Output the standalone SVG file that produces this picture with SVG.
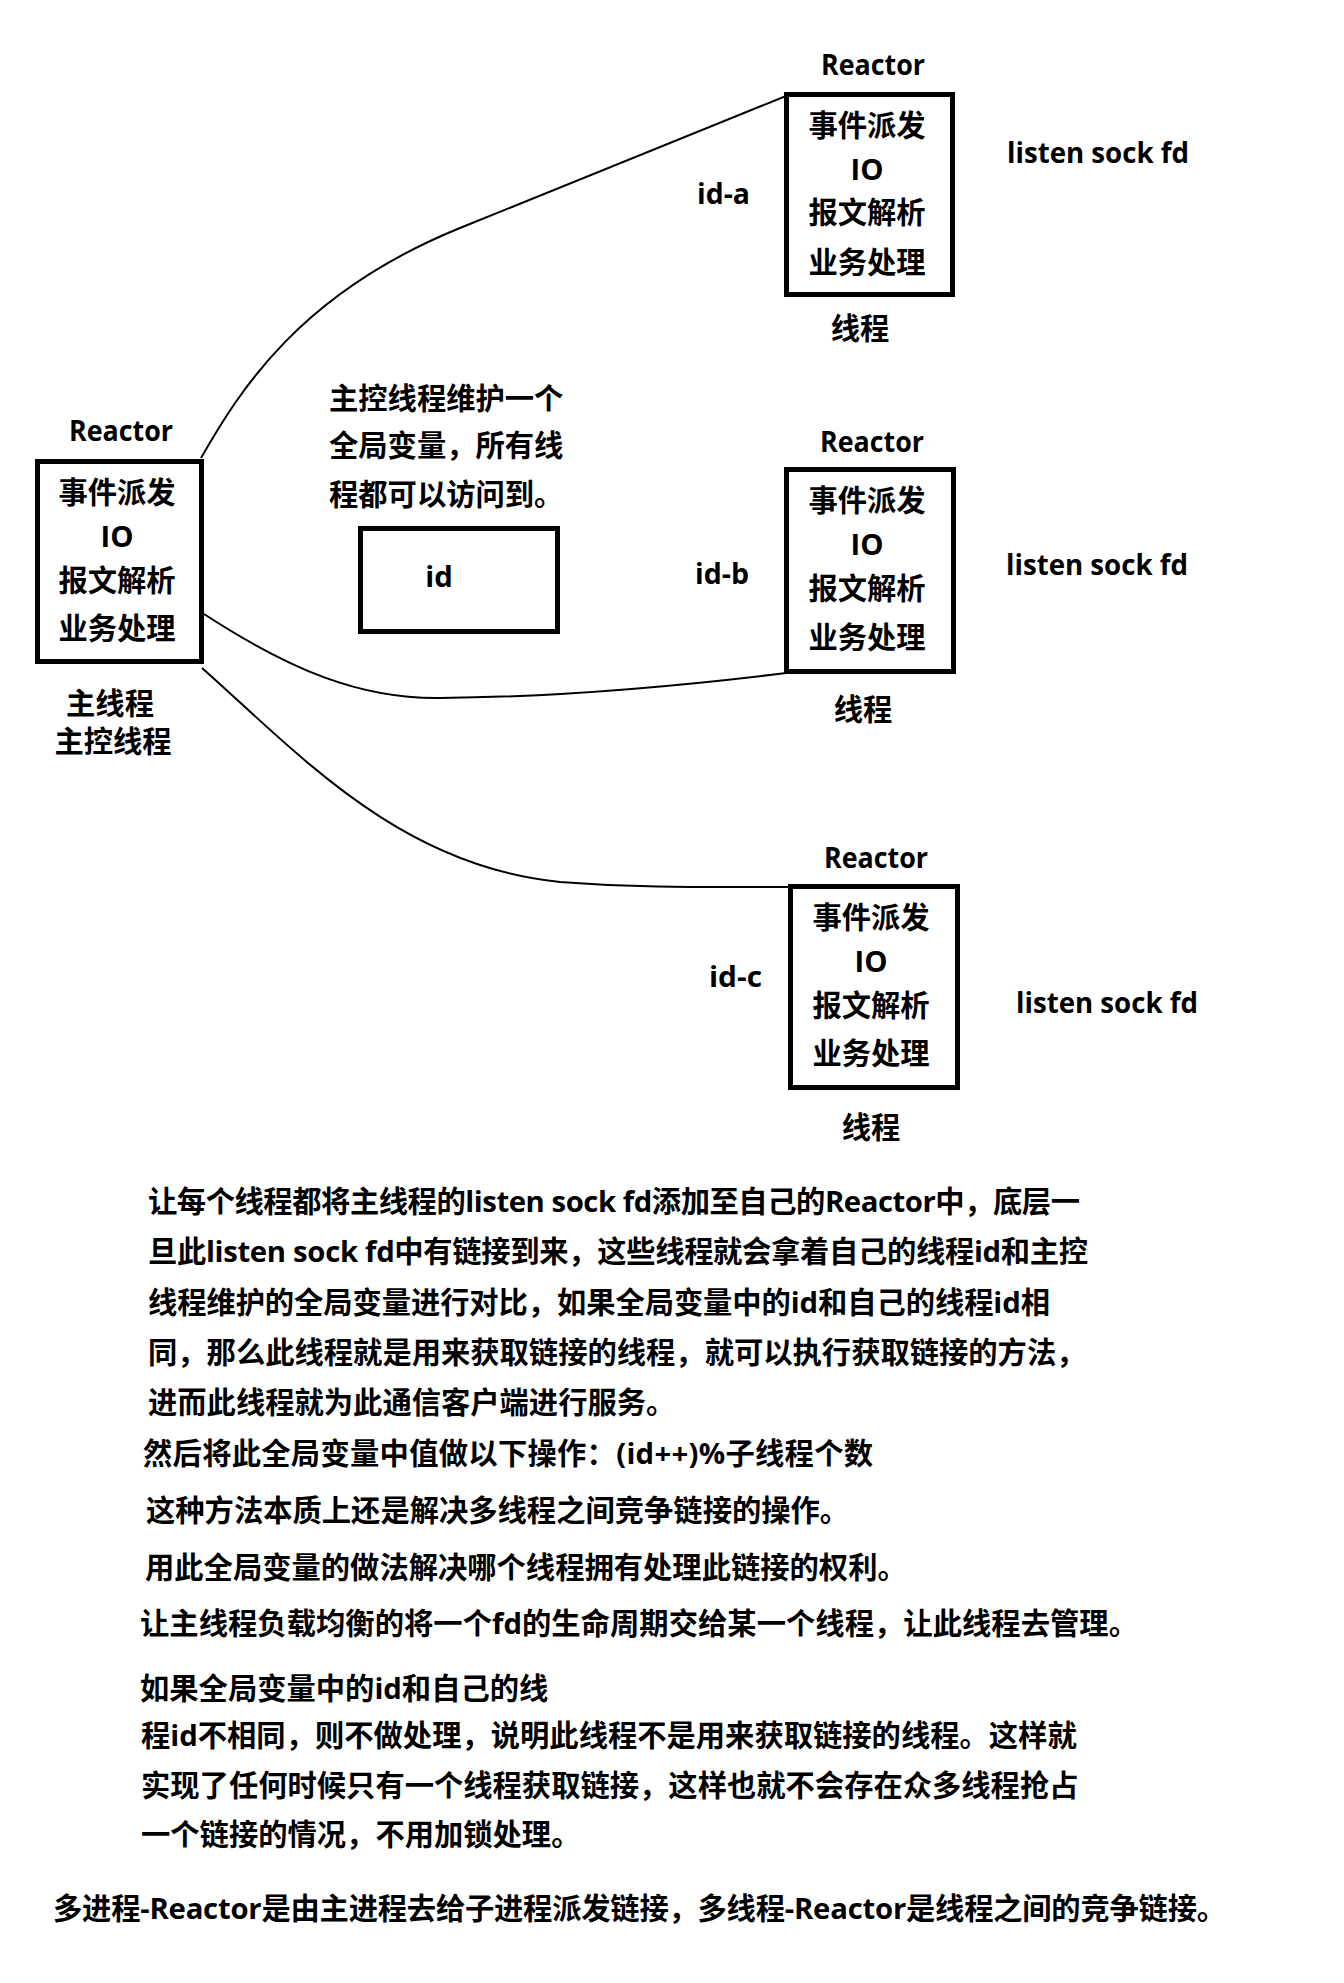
<svg xmlns="http://www.w3.org/2000/svg" width="1344" height="1983" viewBox="0 0 1344 1983">
<style>
.t{font-family:"Open Sans","Noto Sans CJK SC",sans-serif;font-weight:700;font-size:29.3px;fill:#000}
.c{text-anchor:middle}
.box{fill:none;stroke:#000;stroke-width:5}
.conn{fill:none;stroke:#000;stroke-width:2}
</style>
<rect x="0" y="0" width="1344" height="1983" fill="#fff"/>

<g id="connectors">
  <path class="conn" d="M201,458 C240,390 300,293 460,228 L786,96"/>
  <path class="conn" d="M204,614 C290,670 360,699 440,698 C560,697 680,686 786,673"/>
  <path class="conn" d="M202,668 C300,755 400,866 560,882 C640,888 700,887 789,887"/>
  <text class="t" x="697" y="204" textLength="53" lengthAdjust="spacingAndGlyphs">id-a</text>
  <text class="t" x="695" y="584" textLength="54" lengthAdjust="spacingAndGlyphs">id-b</text>
  <text class="t" x="709" y="987" textLength="53" lengthAdjust="spacingAndGlyphs">id-c</text>
</g>

<g id="main-reactor">
  <text class="t c" x="121" y="441" textLength="104" lengthAdjust="spacingAndGlyphs">Reactor</text>
  <rect class="box" x="37.5" y="461.5" width="164" height="200"/>
  <text class="t c" x="117" y="503">事件派发</text>
  <text class="t c" x="117" y="547">IO</text>
  <text class="t c" x="117" y="591">报文解析</text>
  <text class="t c" x="117" y="639">业务处理</text>
  <text class="t c" x="110" y="714">主线程</text>
  <text class="t c" x="113" y="752">主控线程</text>
</g>

<g id="global-id">
  <text class="t" x="329" y="409">主控线程维护一个</text>
  <text class="t" x="329" y="456">全局变量，所有线</text>
  <text class="t" x="329" y="505">程都可以访问到。</text>
  <rect class="box" x="360.5" y="528.5" width="197" height="103"/>
  <text class="t c" x="439" y="587">id</text>
</g>

<g id="reactor-a">
  <text class="t c" x="873" y="75" textLength="104" lengthAdjust="spacingAndGlyphs">Reactor</text>
  <rect class="box" x="786.5" y="94.5" width="166" height="200"/>
  <text class="t c" x="867" y="136">事件派发</text>
  <text class="t c" x="867" y="180">IO</text>
  <text class="t c" x="867" y="223">报文解析</text>
  <text class="t c" x="867" y="273">业务处理</text>
  <text class="t c" x="860" y="339">线程</text>
  <text class="t" x="1007" y="163" textLength="182" lengthAdjust="spacingAndGlyphs">listen sock fd</text>
</g>

<g id="reactor-b">
  <text class="t c" x="872" y="452" textLength="104" lengthAdjust="spacingAndGlyphs">Reactor</text>
  <rect class="box" x="786.5" y="469.5" width="167" height="202"/>
  <text class="t c" x="867" y="511">事件派发</text>
  <text class="t c" x="867" y="555">IO</text>
  <text class="t c" x="867" y="599">报文解析</text>
  <text class="t c" x="867" y="648">业务处理</text>
  <text class="t c" x="863" y="720">线程</text>
  <text class="t" x="1006" y="575" textLength="182" lengthAdjust="spacingAndGlyphs">listen sock fd</text>
</g>

<g id="reactor-c">
  <text class="t c" x="876" y="868" textLength="104" lengthAdjust="spacingAndGlyphs">Reactor</text>
  <rect class="box" x="790.5" y="886.5" width="167" height="201"/>
  <text class="t c" x="871" y="928">事件派发</text>
  <text class="t c" x="871" y="972">IO</text>
  <text class="t c" x="871" y="1016">报文解析</text>
  <text class="t c" x="871" y="1064">业务处理</text>
  <text class="t c" x="871" y="1138">线程</text>
  <text class="t" x="1016" y="1013" textLength="182" lengthAdjust="spacingAndGlyphs">listen sock fd</text>
</g>

<g id="notes">
  <text class="t" x="148" y="1212" textLength="932" lengthAdjust="spacing">让每个线程都将主线程的listen sock fd添加至自己的Reactor中，底层一</text>
  <text class="t" x="148" y="1262" textLength="940" lengthAdjust="spacing">旦此listen sock fd中有链接到来，这些线程就会拿着自己的线程id和主控</text>
  <text class="t" x="148" y="1313" textLength="902" lengthAdjust="spacing">线程维护的全局变量进行对比，如果全局变量中的id和自己的线程id相</text>
  <text class="t" x="148" y="1363">同，那么此线程就是用来获取链接的线程，就可以执行获取链接的方法，</text>
  <text class="t" x="148" y="1413">进而此线程就为此通信客户端进行服务。</text>
  <text class="t" x="143" y="1464" textLength="730" lengthAdjust="spacing">然后将此全局变量中值做以下操作：(id++)%子线程个数</text>
  <text class="t" x="146" y="1521">这种方法本质上还是解决多线程之间竞争链接的操作。</text>
  <text class="t" x="145" y="1578">用此全局变量的做法解决哪个线程拥有处理此链接的权利。</text>
  <text class="t" x="140" y="1634" textLength="998" lengthAdjust="spacing">让主线程负载均衡的将一个fd的生命周期交给某一个线程，让此线程去管理。</text>
  <text class="t" x="140" y="1699">如果全局变量中的id和自己的线</text>
  <text class="t" x="141" y="1746">程id不相同，则不做处理，说明此线程不是用来获取链接的线程。这样就</text>
  <text class="t" x="141" y="1796">实现了任何时候只有一个线程获取链接，这样也就不会存在众多线程抢占</text>
  <text class="t" x="141" y="1845">一个链接的情况，不用加锁处理。</text>
  <text class="t" x="53" y="1919" textLength="1173" lengthAdjust="spacing">多进程-Reactor是由主进程去给子进程派发链接，多线程-Reactor是线程之间的竞争链接。</text>
</g>
</svg>
